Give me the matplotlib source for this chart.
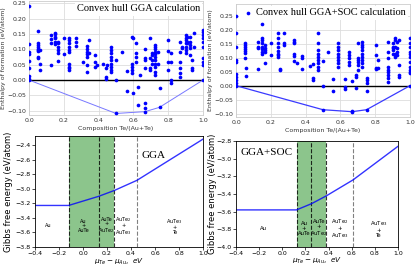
import matplotlib
matplotlib.use("Agg")
import matplotlib.pyplot as plt

# ---- convex hull data (composition Te/(Au+Te) -> formation enthalpies, eV/atom)
gga_comp = [0.0, 0.05, 0.0625, 0.125, 0.15, 0.167, 0.2, 0.23, 0.27, 0.31, 0.333, 0.347,
            0.38, 0.39, 0.425, 0.44, 0.45, 0.47, 0.5, 0.533, 0.562, 0.59, 0.6, 0.615,
            0.625, 0.64, 0.665, 0.697, 0.706, 0.725, 0.74, 0.75, 0.8, 0.815, 0.87, 0.88,
            0.9, 0.907, 0.927, 0.937, 0.946, 1.0]
gga_energy = [
    [0.242, 0.119, 0.092, 0.084, 0.062, 0.038, 0.013, 0.005, 0.0],
    [0.16, 0.122, 0.116, 0.109, 0.102, 0.098, 0.095, 0.076, 0.071],
    [0.098, 0.054, 0.033],
    [0.147, 0.134, 0.12, 0.049],
    [0.155, 0.149, 0.141, 0.136, 0.125, 0.117],
    [0.125, 0.12, 0.109, 0.098, 0.087, 0.062],
    [0.136, 0.084],
    [0.136, 0.13, 0.122, 0.109, 0.098, 0.092, 0.051, 0.043, 0.038, 0.033],
    [0.136, 0.125, 0.111],
    [0.06],
    [0.111, 0.1, 0.092, 0.085, 0.076, 0.049, 0.027],
    [0.13, 0.087],
    [0.082, 0.06, 0.043],
    [0.049],
    [0.054],
    [0.038, 0.011, 0.005],
    [0.049],
    [0.109, 0.098, 0.087, 0.076, 0.065, 0.054, 0.043, 0.033, 0.027],
    [0.065, 0.0, -0.109],
    [0.09],
    [0.03, -0.035],
    [0.141, 0.054, 0.043, 0.033, 0.022],
    [0.138, -0.043],
    [0.12, 0.087, 0.076, 0.06],
    [-0.022, -0.08],
    [0.016],
    [0.1, 0.071, 0.065, 0.038, -0.074, -0.09, -0.103],
    [0.136, 0.071, 0.038, 0.033],
    [0.087, 0.082, 0.065, 0.054],
    [0.114, 0.109, 0.1, 0.092, 0.085, 0.076, 0.065, 0.054, 0.043, 0.027, 0.016],
    [0.092, 0.054],
    [-0.027, -0.089],
    [0.13, 0.095, 0.06, 0.033],
    [0.087, 0.06, 0.0, -0.009],
    [0.125, 0.092, 0.06, 0.038, 0.022, 0.011],
    [0.109, 0.103],
    [0.147, 0.136, 0.13, 0.12, 0.109, 0.098, 0.087],
    [0.141, 0.125, 0.12],
    [0.141, 0.125, 0.114, 0.103, 0.082],
    [0.065, 0.038, 0.033],
    [0.152, 0.109],
    [0.163, 0.158, 0.147, 0.136, 0.125, 0.109, 0.071, 0.06, 0.049, 0.0],
]
gga_hull_x = [0.0, 0.5, 0.667, 0.75, 1.0]
gga_hull_y = [0.0, -0.109, -0.103, -0.089, 0.0]

soc_comp = [0.0, 0.052, 0.06, 0.125, 0.15, 0.167, 0.2, 0.24, 0.253, 0.275, 0.335, 0.35,
            0.38, 0.425, 0.444, 0.473, 0.5, 0.53, 0.56, 0.588, 0.626, 0.651, 0.665, 0.69,
            0.703, 0.722, 0.751, 0.803, 0.814, 0.876, 0.9, 0.914, 0.923, 0.939, 1.0]
soc_energy = [
    [0.25, 0.19, 0.139, 0.092, 0.083, 0.042, 0.032, 0.02, 0.008, 0.0],
    [0.154, 0.145, 0.139, 0.13, 0.124, 0.118, 0.098],
    [0.062, 0.035],
    [0.157, 0.139, 0.133, 0.06],
    [0.22, 0.171, 0.163, 0.154, 0.139, 0.13, 0.121, 0.115],
    [0.145, 0.133, 0.127, 0.119, 0.08],
    [0.154, 0.11],
    [0.187, 0.171, 0.154, 0.139, 0.125, 0.115, 0.11, 0.101],
    [0.06, 0.056],
    [0.187, 0.154, 0.145],
    [0.163, 0.157, 0.154, 0.115, 0.106, 0.088],
    [0.08],
    [0.107, 0.098, 0.06],
    [0.071],
    [0.076, 0.029, 0.02],
    [0.189, 0.151, 0.127, 0.115, 0.104, 0.092, 0.08, 0.068, 0.056],
    [0.088, 0.0, -0.086],
    [0.119],
    [0.024, -0.019],
    [0.151, 0.139, 0.127, 0.115, 0.104, 0.092, 0.08, 0.068],
    [0.024, -0.006, -0.012],
    [0.121, 0.11, 0.098, 0.086, 0.074],
    [0.017, -0.09, -0.095],
    [0.038, 0.032, -0.01],
    [0.151, 0.098, 0.092, 0.086, 0.074, 0.056],
    [0.155, 0.145, 0.139, 0.127, 0.115, 0.104, 0.092, 0.08, 0.068],
    [0.026, 0.02, 0.008, -0.018, -0.086],
    [0.145, 0.11, 0.064, 0.06],
    [0.092, 0.064],
    [0.157, 0.121, 0.098, 0.068, 0.056, 0.05, 0.038, 0.026, 0.014],
    [0.151, 0.139, 0.133, 0.127, 0.115],
    [0.169, 0.163, 0.139, 0.115, 0.11, 0.104],
    [0.157, 0.133, 0.121, 0.11],
    [0.163, 0.074, 0.038, 0.032],
    [0.169, 0.151, 0.139, 0.121, 0.115, 0.104, 0.086, 0.068, 0.056, 0.05, 0.044, 0.0],
]
soc_hull_x = [0.0, 0.5, 0.667, 0.75, 1.0]
soc_hull_y = [0.0, -0.086, -0.093, -0.086, 0.0]

# ---- Gibbs free energy vs chemical potential
gga_mu = [-0.4, -0.12, 0.13, 0.26, 0.45, 1.0]
gga_g = [-3.23, -3.23, -3.105, -3.025, -2.885, -2.32]
gga_bounds = [-0.12, 0.13, 0.26, 0.45]
gga_phase_x = [-0.29, 0.005, 0.195, 0.34, 0.76]

soc_mu = [-0.4, 0.123, 0.252, 0.382, 0.612, 1.0]
soc_g = [-3.58, -3.58, -3.51, -3.42, -3.24, -2.86]
soc_bounds = [0.123, 0.252, 0.382, 0.612]
soc_phase_x = [-0.16, 0.188, 0.317, 0.5, 0.83]

phase_labels = ["Au", "Au\n+\nAuTe", "AuTe\n+\nAuTe$_2$", "AuTe$_2$\n+\nAuTe$_3$", "AuTe$_3$\n+\nTe"]

W, H = 415, 267
fig = plt.figure(figsize=(W / 100, H / 100), dpi=100)


def box(l, t, r, b):
    return [l / W, 1 - b / H, (r - l) / W, (b - t) / H]


def hull_panel(rect, comp, energy, hx, hy, ylim, hull_col, hull_lw, ylab_x):
    ax = fig.add_axes(rect)
    xs, ys = [], []
    for c, es in zip(comp, energy):
        xs += [c] * len(es)
        ys += es
    ax.grid(True, color="#dddddd", lw=0.6)
    ax.set_axisbelow(True)
    ax.axhline(0, color="k", lw=1.0, zorder=1)
    ax.plot(hx, hy, color=hull_col, lw=hull_lw, zorder=2)
    pts = ax.scatter(xs, ys, s=7, color="blue", lw=0, zorder=3)
    ax.set_xlim(0, 1)
    ax.set_ylim(*ylim)
    ax.set_xticks([0, 0.2, 0.4, 0.6, 0.8, 1.0])
    ax.set_yticks([-0.10, -0.05, 0, 0.05, 0.10, 0.15, 0.20, 0.25])
    ax.tick_params(labelsize=4.5, length=0, pad=2, colors="#333333")
    for s in ax.spines.values():
        s.set_color("#cccccc")
        s.set_linewidth(0.6)
    ax.set_xlabel("Composition Te/(Au+Te)", fontsize=4.5, labelpad=2, color="#333333")
    ax.set_ylabel("Enthalpy of formation (eV/atom)", fontsize=4.5, color="#333333")
    ax.yaxis.set_label_coords(ylab_x, 0.5)
    return ax, pts


ax1, _ = hull_panel(box(29, 1, 203, 115), gga_comp, gga_energy, gga_hull_x, gga_hull_y,
                    (-0.114, 0.258), "#7878ff", 0.7, -0.13)
ax1.text(0.985, 0.93, "Convex hull GGA calculation", transform=ax1.transAxes,
         ha="right", va="center", fontsize=7.5, family="Liberation Serif",
         bbox=dict(facecolor="white", edgecolor="none", pad=1.5))

ax2, pts2 = hull_panel(box(236, 4, 410, 117), soc_comp, soc_energy, soc_hull_x, soc_hull_y,
                       (-0.112, 0.292), "#3a3aff", 0.9, -0.13)
pts2.set_label("Convex hull GGA+SOC calculation")
ax2.legend(loc="upper right", prop={"family": "Liberation Serif", "size": 7.5},
           frameon=True, framealpha=1, edgecolor="none", borderpad=0.2,
           borderaxespad=0.2, handletextpad=0.2, handlelength=1.2, scatterpoints=1)


def gibbs_panel(rect, mu, g, bounds, phase_x, phase_y, ylim, yticks, name, name_xy, fsz, ylab_x):
    ax = fig.add_axes(rect)
    ax.axvspan(bounds[0], bounds[2], color="green", alpha=0.45, lw=0)
    for b in bounds[:3]:
        ax.axvline(b, color="k", ls="--", lw=0.8, alpha=0.8)
    ax.axvline(bounds[3], color="gray", ls="--", lw=0.8)
    ax.plot(mu, g, color="blue", lw=1.0, alpha=0.8)
    for x, lab in zip(phase_x, phase_labels):
        ax.text(x, phase_y, lab, ha="center", va="center", fontsize=fsz, linespacing=0.95)
    ax.text(name_xy[0], name_xy[1], name, fontsize=8, family="Liberation Serif",
            ha="left", va="center")
    ax.set_xlim(-0.4, 1.0)
    ax.set_ylim(*ylim)
    ax.set_xticks([-0.4, -0.2, 0.0, 0.2, 0.4, 0.6, 0.8, 1.0])
    ax.set_yticks(yticks)
    ax.tick_params(labelsize=4.5, length=2, width=0.5, pad=1)
    for s in ax.spines.values():
        s.set_linewidth(0.6)
    ax.set_xlabel(r"$\mu_{Te} - \mu_{Au}$,  $eV$", fontsize=5.2)
    ax.xaxis.set_label_coords(0.5, -0.085)
    ax.set_ylabel("Gibbs free energy (eV/atom)", fontsize=6)
    ax.yaxis.set_label_coords(ylab_x, 0.5)
    return ax


gibbs_panel(box(35, 136, 203, 247), gga_mu, gga_g, gga_bounds, gga_phase_x, -3.51,
            (-3.8, -2.277), [-3.8, -3.6, -3.4, -3.2, -3.0, -2.8, -2.6, -2.4],
            "GGA", (0.49, -2.55), 3.6, -0.13)
gibbs_panel(box(236, 141, 398, 247), soc_mu, soc_g, soc_bounds, soc_phase_x, -3.79,
            (-4.0, -2.8), [-4.0, -3.8, -3.6, -3.4, -3.2, -3.0, -2.8],
            "GGA+SOC", (-0.36, -2.93), 3.8, -0.12)

fig.savefig("out.png", dpi=100)
